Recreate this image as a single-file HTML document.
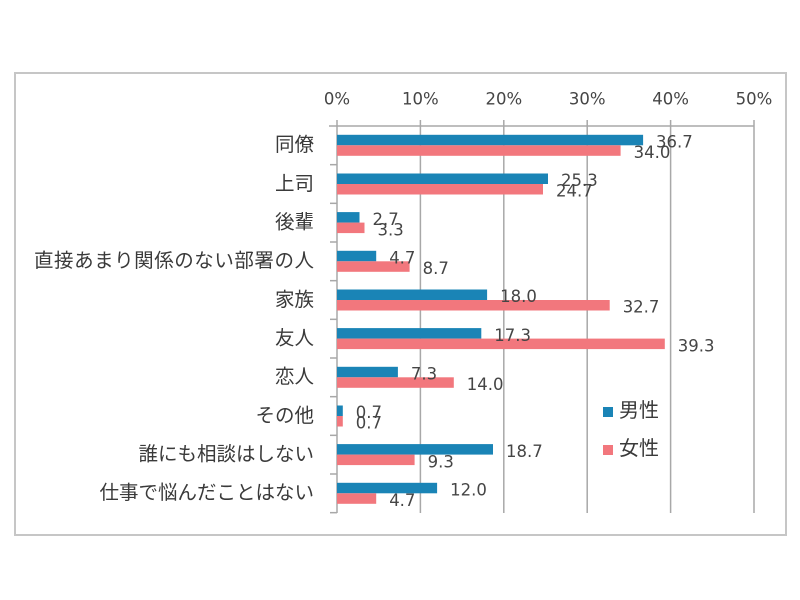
<!DOCTYPE html>
<html><head><meta charset="utf-8"><style>
html,body{margin:0;padding:0;background:#fff;}
svg{display:block;}
.jp{font-family:"Liberation Sans","Noto Sans CJK JP",sans-serif;font-size:19.5px;fill:#3a3a3a;}
.num{font-family:"DejaVu Sans","Liberation Sans",sans-serif;font-size:16.5px;fill:#454545;}
</style></head><body>
<svg width="800" height="600" viewBox="0 0 800 600" xmlns="http://www.w3.org/2000/svg">
<rect x="0" y="0" width="800" height="600" fill="#fff"/>
<rect x="15" y="73" width="771" height="462" fill="#fff" stroke="#c6c6c6" stroke-width="2"/>
<!-- gridlines -->
<g stroke="#a8a8a8" stroke-width="1.5">
<line x1="337" y1="120" x2="337" y2="513"/>
<line x1="420.4" y1="120" x2="420.4" y2="513"/>
<line x1="503.8" y1="120" x2="503.8" y2="513"/>
<line x1="587.2" y1="120" x2="587.2" y2="513"/>
<line x1="670.6" y1="120" x2="670.6" y2="513"/>
<line x1="754" y1="120" x2="754" y2="513"/>
<line x1="329" y1="126" x2="754" y2="126"/>
<line x1="330" y1="164.67" x2="337" y2="164.67"/>
<line x1="330" y1="203.33" x2="337" y2="203.33"/>
<line x1="330" y1="242" x2="337" y2="242"/>
<line x1="330" y1="280.67" x2="337" y2="280.67"/>
<line x1="330" y1="319.33" x2="337" y2="319.33"/>
<line x1="330" y1="358" x2="337" y2="358"/>
<line x1="330" y1="396.67" x2="337" y2="396.67"/>
<line x1="330" y1="435.33" x2="337" y2="435.33"/>
<line x1="330" y1="474" x2="337" y2="474"/>
<line x1="330" y1="512.67" x2="337" y2="512.67"/>
</g>
<!-- tick labels -->
<g class="num" text-anchor="middle" dominant-baseline="central">
<text x="337" y="99">0%</text>
<text x="420.4" y="99">10%</text>
<text x="503.8" y="99">20%</text>
<text x="587.2" y="99">30%</text>
<text x="670.6" y="99">40%</text>
<text x="754" y="99">50%</text>
</g>
<!-- blue bars -->
<g fill="#1a84b6">
<rect x="337" y="134.8" width="306.1" height="10.5"/>
<rect x="337" y="173.5" width="211.0" height="10.5"/>
<rect x="337" y="212.1" width="22.5" height="10.5"/>
<rect x="337" y="250.8" width="39.2" height="10.5"/>
<rect x="337" y="289.5" width="150.1" height="10.5"/>
<rect x="337" y="328.1" width="144.3" height="10.5"/>
<rect x="337" y="366.8" width="60.9" height="10.5"/>
<rect x="337" y="405.5" width="5.8" height="10.5"/>
<rect x="337" y="444.1" width="156.0" height="10.5"/>
<rect x="337" y="482.8" width="100.1" height="10.5"/>
</g>
<!-- pink bars -->
<g fill="#f2777d">
<rect x="337" y="145.3" width="283.6" height="10.5"/>
<rect x="337" y="184.0" width="206.0" height="10.5"/>
<rect x="337" y="222.6" width="27.5" height="10.5"/>
<rect x="337" y="261.3" width="72.6" height="10.5"/>
<rect x="337" y="300.0" width="272.7" height="10.5"/>
<rect x="337" y="338.6" width="327.8" height="10.5"/>
<rect x="337" y="377.3" width="116.8" height="10.5"/>
<rect x="337" y="416.0" width="5.8" height="10.5"/>
<rect x="337" y="454.6" width="77.6" height="10.5"/>
<rect x="337" y="493.3" width="39.2" height="10.5"/>
</g>
<!-- data labels -->
<g class="num" dominant-baseline="central">
<text x="656" y="142">36.7</text>
<text x="633.6" y="152.5">34.0</text>
<text x="561" y="180.7">25.3</text>
<text x="556" y="191.2">24.7</text>
<text x="372.5" y="219.3">2.7</text>
<text x="377.5" y="229.8">3.3</text>
<text x="389.2" y="258">4.7</text>
<text x="422.6" y="268.5">8.7</text>
<text x="500.1" y="296.7">18.0</text>
<text x="622.7" y="307.2">32.7</text>
<text x="494.3" y="335.3">17.3</text>
<text x="677.8" y="345.8">39.3</text>
<text x="410.9" y="374">7.3</text>
<text x="466.8" y="384.5">14.0</text>
<text x="355.8" y="412.7">0.7</text>
<text x="355.8" y="423.2">0.7</text>
<text x="506" y="451.3">18.7</text>
<text x="427.6" y="461.8">9.3</text>
<text x="450.1" y="490">12.0</text>
<text x="389.2" y="500.5">4.7</text>
</g>
<!-- category labels -->
<g class="jp" text-anchor="end" dominant-baseline="central">
<text x="314" y="145">同僚</text>
<text x="314" y="184">上司</text>
<text x="314" y="222.5">後輩</text>
<text x="314" y="261" textLength="280" lengthAdjust="spacing">直接あまり関係のない部署の人</text>
<text x="314" y="300">家族</text>
<text x="314" y="338.5">友人</text>
<text x="314" y="377">恋人</text>
<text x="314" y="416">その他</text>
<text x="314" y="454.5">誰にも相談はしない</text>
<text x="314" y="493">仕事で悩んだことはない</text>
</g>
<!-- legend -->
<rect x="603" y="407" width="10" height="10" fill="#1a84b6"/>
<rect x="603" y="445" width="10" height="10" fill="#f2777d"/>
<g class="jp" style="font-size:20px" dominant-baseline="central">
<text x="619" y="411">男性</text>
<text x="619" y="449">女性</text>
</g>
</svg>
</body></html>
